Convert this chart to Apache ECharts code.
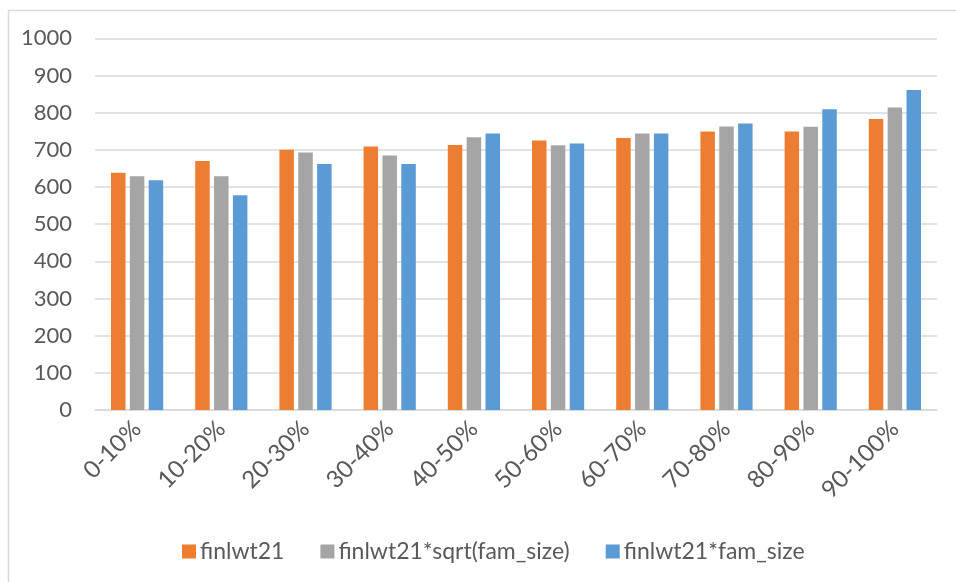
<!DOCTYPE html>
<html>
<head>
<meta charset="utf-8">
<script src="https://cdn.jsdelivr.net/npm/echarts@6/dist/echarts.min.js"></script>
<style>
html,body{margin:0;padding:0;background:#fff;}
#chart{width:956px;height:582px;}
</style>
</head>
<body>
<div id="chart"></div>
<script>
var categories = ['0-10%','10-20%','20-30%','30-40%','40-50%','50-60%','60-70%','70-80%','80-90%','90-100%'];
var seriesNames = ['finlwt21','finlwt21*sqrt(fam_size)','finlwt21*fam_size'];
var finlwt21 = [638, 670, 700, 709, 713, 725, 732, 749, 749, 783];
var finlwt21Sqrt = [629, 629, 693, 685, 734, 712, 744, 763, 762, 814];
var finlwt21Fam = [618, 578, 662, 662, 744, 717, 744, 771, 809, 861];
var yTicks = [0, 100, 200, 300, 400, 500, 600, 700, 800, 900, 1000];
var colors = ['#ED7D31', '#A5A5A5', '#5B9BD5'];

var FONT = 'Lato';
var TXT = '#595959';
var chart = echarts.init(document.getElementById('chart'));
var values = [finlwt21, finlwt21Sqrt, finlwt21Fam];
chart.setOption({
  animation: false,
  backgroundColor: '#fff',
  textStyle: {fontFamily: FONT},
  graphic: [{
    type: 'rect', left: 6, top: 8,
    shape: {width: 960, height: 590},
    style: {fill: 'none', stroke: '#d9d9d9', lineWidth: 1.5},
    silent: true
  }],
  grid: {left: 95, right: 19, top: 38.3, bottom: 172, containLabel: false},
  legend: {
    data: seriesNames,
    left: 177,
    top: 535,
    itemWidth: 14, itemHeight: 14, itemGap: 36,
    icon: 'rect',
    textStyle: {color: TXT, fontSize: 23, fontFamily: FONT, padding: [0,0,0,-1]}
  },
  xAxis: {
    type: 'category',
    data: categories,
    axisLine: {show: true, lineStyle: {color: '#d9d9d9', width: 1.5}},
    axisTick: {show: false},
    axisLabel: {rotate: 45, color: TXT, fontSize: 24, fontFamily: FONT, margin: 15, interval: 0}
  },
  yAxis: {
    type: 'value',
    min: yTicks[0], max: yTicks[yTicks.length-1], interval: 100,
    axisLine: {show: false}, axisTick: {show: false},
    splitLine: {lineStyle: {color: '#d9d9d9', width: 1.5}},
    axisLabel: {color: TXT, fontSize: 22, fontFamily: FONT, margin: 23,
      formatter: function(v){ return String(v); }}
  },
  series: seriesNames.map(function(n, i){
    return {
      name: n, type: 'bar', data: values[i],
      barWidth: 14.5, barGap: '30%',
      itemStyle: {color: colors[i]}
    };
  })
});
</script>
</body>
</html>
